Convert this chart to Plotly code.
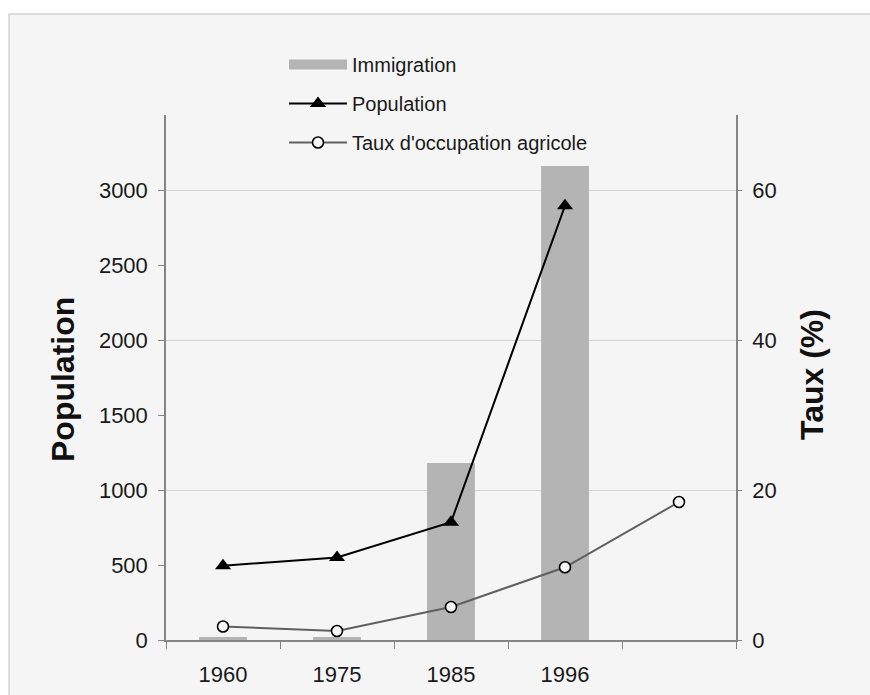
import plotly.graph_objects as go

years = ["1960", "1975", "1985", "1996", ""]
immigration = [20, 20, 1180, 3160, None]
population = [495, 550, 785, 2895, None]
taux = [1.8, 1.2, 4.4, 9.7, 18.4]
pop_ticks = [0, 500, 1000, 1500, 2000, 2500, 3000]
taux_ticks = [0, 20, 40, 60]

xpos = list(range(len(years)))

W, H = 870, 695
PX0, PX1, PY0, PY1 = 166, 736, 115, 640
def px(x):
    return (x - PX0) / (PX1 - PX0)
def py(y):
    return (PY1 - y) / (PY1 - PY0)

FONT = "Liberation Sans, Arial, sans-serif"
AXC = "#858585"
FRAME = "#bdbdbd"

fig = go.Figure()
fig.add_trace(go.Bar(
    x=xpos, y=immigration, name="Immigration", width=0.42,
    marker=dict(color="#b4b4b4", line=dict(width=0)),
    showlegend=False,
))
# legend entry for the bars (wide grey swatch)
fig.add_trace(go.Scatter(
    x=[None], y=[None], name="Immigration", mode="lines",
    line=dict(color="#b4b4b4", width=15), legendgroup="a",
))
fig.add_trace(go.Scatter(
    x=xpos, y=population, name="Population", mode="lines+markers",
    line=dict(color="#000000", width=2),
    marker=dict(symbol="triangle-up", size=14, color="#000000"),
    legendgroup="b",
))
fig.add_trace(go.Scatter(
    x=xpos, y=taux, name="Taux d'occupation agricole", mode="lines+markers",
    yaxis="y2",
    line=dict(color="#606060", width=2),
    marker=dict(symbol="circle", size=11, color="#f5f5f5",
                line=dict(color="#000000", width=1.6)),
    legendgroup="c",
))

fig.update_layout(
    width=W, height=H,
    margin=dict(l=PX0, r=W - PX1, t=PY0, b=H - PY1, pad=0, autoexpand=False),
    paper_bgcolor="white",
    plot_bgcolor="rgba(0,0,0,0)",
    font=dict(family=FONT, size=22, color="#1a1a1a"),
    showlegend=True,
    legend=dict(
        x=px(284), y=py(45), xanchor="left", yanchor="top",
        bgcolor="rgba(0,0,0,0)", font=dict(size=20, color="#1a1a1a"),
        traceorder="grouped", tracegroupgap=10, itemwidth=58,
    ),
    xaxis=dict(
        range=[-0.5, len(years) - 0.5], automargin=False,
        tickmode="array", tickvals=xpos[:4], ticktext=years[:4],
        ticks="", showgrid=False, zeroline=False,
        showline=True, linecolor=AXC, linewidth=1.5,
        ticklabelstandoff=14,
        minor=dict(tick0=-0.5, dtick=1, ticks="outside", ticklen=7,
                   tickcolor=AXC, tickwidth=1, showgrid=False),
    ),
    yaxis=dict(
        range=[0, 3500], automargin=False, tickmode="array", tickvals=pop_ticks,
        showgrid=False, zeroline=False,
        showline=True, linecolor=AXC, linewidth=1.5,
        ticks="outside", ticklen=6, tickcolor=AXC, tickwidth=1,
        ticklabelstandoff=6,
    ),
    yaxis2=dict(
        overlaying="y", side="right", automargin=False,
        range=[0, 70], tickmode="array", tickvals=taux_ticks,
        showgrid=True, gridcolor="#d4d4d4", gridwidth=1,
        zeroline=False,
        showline=True, linecolor=AXC, linewidth=1.5,
        ticks="outside", ticklen=4, tickcolor=AXC, tickwidth=1,
        ticklabelstandoff=6,
    ),
    shapes=[
        dict(type="rect", xref="paper", yref="paper",
             x0=px(9), x1=px(900), y0=py(720), y1=py(14),
             fillcolor="#f5f5f5", line=dict(width=0), layer="below"),
        dict(type="line", xref="paper", yref="paper",
             x0=px(9), x1=px(900), y0=py(14), y1=py(14),
             line=dict(color=FRAME, width=1), layer="below"),
        dict(type="line", xref="paper", yref="paper",
             x0=px(9), x1=px(9), y0=py(14), y1=py(720),
             line=dict(color=FRAME, width=1), layer="below"),
    ],
    annotations=[
        dict(text="<b>Population</b>", textangle=-90, x=px(63), y=py(380),
             xref="paper", yref="paper", xanchor="center", yanchor="middle",
             showarrow=False, font=dict(size=32, color="#111111")),
        dict(text="<b>Taux (%)</b>", textangle=-90, x=px(812), y=py(375),
             xref="paper", yref="paper", xanchor="center", yanchor="middle",
             showarrow=False, font=dict(size=32, color="#111111")),
    ],
)

fig.write_html(
    "out.html",
    config={"displayModeBar": False},
    post_script="document.body.style.margin='0';document.body.style.overflow='hidden';",
)
